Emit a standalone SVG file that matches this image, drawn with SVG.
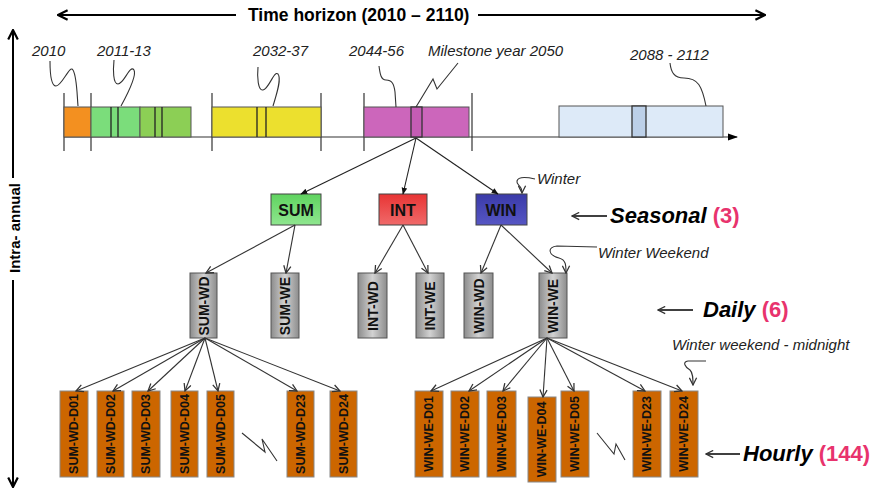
<svg xmlns="http://www.w3.org/2000/svg" width="880" height="493" viewBox="0 0 880 493">
  <defs>
    <marker id="vee" viewBox="0 0 10 10" refX="9" refY="5" markerWidth="9" markerHeight="9" markerUnits="userSpaceOnUse" orient="auto">
      <path d="M1,1 L9,5 L1,9" fill="none" stroke="#333" stroke-width="1.4"/>
    </marker>
    <marker id="tri" viewBox="0 0 10 10" refX="9" refY="5" markerWidth="7" markerHeight="7" markerUnits="userSpaceOnUse" orient="auto">
      <path d="M0,1 L10,5 L0,9 Z" fill="#111"/>
    </marker>
    <marker id="axis" viewBox="0 0 10 10" refX="9" refY="5" markerWidth="12" markerHeight="12" markerUnits="userSpaceOnUse" orient="auto">
      <path d="M1,1 L9,5 L1,9" fill="none" stroke="#000" stroke-width="1.8"/>
    </marker>
    <marker id="head" viewBox="0 0 10 10" refX="9" refY="5" markerWidth="14" markerHeight="10" markerUnits="userSpaceOnUse" orient="auto">
      <path d="M0,1.5 L10,5 L0,8.5 Z" fill="#000"/>
    </marker>
    <linearGradient id="grey" x1="0" y1="0" x2="1" y2="0">
      <stop offset="0" stop-color="#8c8c8c"/>
      <stop offset="0.5" stop-color="#d2d2d2"/>
      <stop offset="1" stop-color="#8c8c8c"/>
    </linearGradient>
    <linearGradient id="gSum" x1="0" y1="0" x2="0" y2="1">
      <stop offset="0" stop-color="#5fd35f"/>
      <stop offset="1" stop-color="#8fe68f"/>
    </linearGradient>
    <linearGradient id="gInt" x1="0" y1="0" x2="0" y2="1">
      <stop offset="0" stop-color="#e83434"/>
      <stop offset="1" stop-color="#f06a6a"/>
    </linearGradient>
    <linearGradient id="gWin" x1="0" y1="0" x2="0" y2="1">
      <stop offset="0" stop-color="#3a3aa8"/>
      <stop offset="1" stop-color="#5656c4"/>
    </linearGradient>
  </defs>
  <style>
    .lbl { font-family: "Liberation Sans", Arial, sans-serif; font-style: italic; font-size: 15px; fill: #222; }
    .lvl { font-family: "Liberation Sans", Arial, sans-serif; font-style: italic; font-weight: bold; font-size: 22px; fill: #000; }
    .cnt { font-style: normal; fill: #e8336d; }
    .ttl { font-family: "Liberation Sans", Arial, sans-serif; font-weight: bold; fill: #000; }
    .seas { font-family: "Liberation Sans", Arial, sans-serif; font-weight: bold; font-size: 16px; fill: #111; text-anchor: middle; }
    .vt { font-family: "Liberation Sans", Arial, sans-serif; font-weight: bold; fill: #111; text-anchor: middle; dominant-baseline: central; }
    .day { fill: url(#grey); stroke: #555; stroke-width: 1; }
    .hr { fill: #cc6600; stroke: #888; stroke-width: 1; }
    .edge { stroke: #333; stroke-width: 1.1; fill: none; marker-end: url(#vee); }
    .top { stroke: #222; stroke-width: 1.1; fill: none; marker-end: url(#tri); }
    .lead { stroke: #333; stroke-width: 1.1; fill: none; }
    .tick { stroke: #333; stroke-width: 1.2; }
    .sep { stroke: #222; stroke-width: 1.3; }
  </style>
  <rect width="880" height="493" fill="#fff"/>

  <!-- axes -->
  <g id="time-axis">
    <line x1="236" y1="15" x2="58" y2="15" stroke="#000" stroke-width="2" marker-end="url(#axis)"/>
    <line x1="478" y1="15" x2="765" y2="15" stroke="#000" stroke-width="2" marker-end="url(#axis)"/>
    <text class="ttl" x="248" y="21" font-size="17.5">Time horizon (2010 – 2110)</text>
  </g>
  <g id="intra-axis">
    <line x1="13" y1="178" x2="13" y2="30" stroke="#000" stroke-width="2" marker-end="url(#axis)"/>
    <line x1="13" y1="280" x2="13" y2="487" stroke="#000" stroke-width="2" marker-end="url(#axis)"/>
    <text class="ttl" font-size="15" text-anchor="middle" dominant-baseline="central" transform="translate(14,228) rotate(-90)">Intra- annual</text>
  </g>

  <!-- timeline of periods -->
  <g id="timeline">
    <line x1="64" y1="137" x2="737" y2="137" stroke="#333" stroke-width="1.2" marker-end="url(#head)"/>
    <line class="tick" x1="64" y1="93" x2="64" y2="151"/>
    <line class="tick" x1="91" y1="93" x2="91" y2="151"/>
    <line class="tick" x1="212" y1="93" x2="212" y2="151"/>
    <line class="tick" x1="321" y1="93" x2="321" y2="151"/>
    <line class="tick" x1="364" y1="93" x2="364" y2="151"/>
    <line class="tick" x1="472" y1="93" x2="472" y2="151"/>
  </g>
  <g id="p2010">
    <rect x="64" y="107" width="27" height="30" fill="#f39020" stroke="#555"/>
    <text class="lbl" x="32" y="56">2010</text>
    <path class="lead" d="M50,61 C50,72 51,86 56,86 C62,86 70,64 73,70 C77,77 77,95 78,106"/>
  </g>
  <g id="p2011">
    <rect x="91" y="107" width="49" height="30" fill="#7bdd7b" stroke="#555"/>
    <rect x="140" y="107" width="51" height="30" fill="#8ccf55" stroke="#555"/>
    <line class="sep" x1="111" y1="107" x2="111" y2="137"/>
    <line class="sep" x1="118" y1="107" x2="118" y2="137"/>
    <line class="sep" x1="155" y1="107" x2="155" y2="137"/>
    <line class="sep" x1="162" y1="107" x2="162" y2="137"/>
    <text class="lbl" x="97" y="56">2011-13</text>
    <path class="lead" d="M114,60 C113,70 113,84 118,84 C124,84 130,64 134,70 C137,76 127,95 121,106"/>
  </g>
  <g id="p2032">
    <rect x="212" y="107" width="109" height="30" fill="#ece02e" stroke="#555"/>
    <line class="sep" x1="257" y1="107" x2="257" y2="137"/>
    <line class="sep" x1="266" y1="107" x2="266" y2="137"/>
    <text class="lbl" x="253" y="56">2032-37</text>
    <path class="lead" d="M258,67 C257,77 258,91 263,90 C269,89 274,70 278,74 C282,79 276,96 273,106"/>
  </g>
  <g id="p2044">
    <rect x="364" y="107" width="105" height="30" fill="#cc66bb" stroke="#555"/>
    <rect x="411" y="107" width="11" height="30" fill="#c45cb4" stroke="#333" stroke-width="1.3"/>
    <text class="lbl" x="349" y="56">2044-56</text>
    <path class="lead" d="M379,66 C380,74 381,80 386,80 C392,80 394,84 395,92 L396,107"/>
    <text class="lbl" x="428" y="56">Milestone year 2050</text>
    <path class="lead" d="M458,63 L437,89 L433,79 L416,107"/>
  </g>
  <g id="p2088">
    <rect x="559" y="106" width="164" height="31" fill="#ddeaf8" stroke="#555"/>
    <rect x="632" y="106" width="14" height="31" fill="#bcd0e8" stroke="#333" stroke-width="1.3"/>
    <text class="lbl" x="630" y="60">2088 - 2112</text>
    <path class="lead" d="M670,63 C671,72 674,78 684,78 C698,78 702,86 706,106"/>
  </g>

  <!-- seasonal level -->
  <g id="SUM">
    <rect x="271" y="194" width="50" height="31" fill="url(#gSum)" stroke="#444"/>
    <text class="seas" x="296" y="216">SUM</text>
  </g>
  <g id="INT">
    <rect x="379" y="194" width="48" height="31" fill="url(#gInt)" stroke="#444"/>
    <text class="seas" x="403" y="216">INT</text>
  </g>
  <g id="WIN">
    <rect x="476" y="194" width="51" height="31" fill="url(#gWin)" stroke="#444"/>
    <text class="seas" x="501" y="216">WIN</text>
  </g>

  <!-- daily level -->
  <g id="SUM-WD"><rect class="day" x="190" y="273" width="27" height="65"/><text class="vt" font-size="14" transform="translate(204,306) rotate(-90)">SUM-WD</text></g>
  <g id="SUM-WE"><rect class="day" x="271" y="273" width="28" height="65"/><text class="vt" font-size="14" transform="translate(285,306) rotate(-90)">SUM-WE</text></g>
  <g id="INT-WD"><rect class="day" x="358" y="273" width="29" height="65"/><text class="vt" font-size="14" transform="translate(372.5,306) rotate(-90)">INT-WD</text></g>
  <g id="INT-WE"><rect class="day" x="416" y="273" width="28" height="65"/><text class="vt" font-size="14" transform="translate(430,306) rotate(-90)">INT-WE</text></g>
  <g id="WIN-WD"><rect class="day" x="464" y="273" width="29" height="65"/><text class="vt" font-size="14" transform="translate(478.5,306) rotate(-90)">WIN-WD</text></g>
  <g id="WIN-WE"><rect class="day" x="539" y="273" width="28" height="65"/><text class="vt" font-size="14" transform="translate(553,306) rotate(-90)">WIN-WE</text></g>

  <!-- hourly level: summer weekday -->
  <g id="SUM-WD-D01"><rect class="hr" x="60" y="391" width="28" height="86"/><text class="vt" font-size="12.5" transform="translate(74,434) rotate(-90)">SUM-WD-D01</text></g>
  <g id="SUM-WD-D02"><rect class="hr" x="97" y="391" width="27" height="86"/><text class="vt" font-size="12.5" transform="translate(110.5,434) rotate(-90)">SUM-WD-D02</text></g>
  <g id="SUM-WD-D03"><rect class="hr" x="132" y="391" width="28" height="86"/><text class="vt" font-size="12.5" transform="translate(146,434) rotate(-90)">SUM-WD-D03</text></g>
  <g id="SUM-WD-D04"><rect class="hr" x="171" y="391" width="27" height="86"/><text class="vt" font-size="12.5" transform="translate(184.5,434) rotate(-90)">SUM-WD-D04</text></g>
  <g id="SUM-WD-D05"><rect class="hr" x="207" y="391" width="27" height="86"/><text class="vt" font-size="12.5" transform="translate(220.5,434) rotate(-90)">SUM-WD-D05</text></g>
  <g id="SUM-WD-D23"><rect class="hr" x="287" y="391" width="27" height="86"/><text class="vt" font-size="12.5" transform="translate(300.5,434) rotate(-90)">SUM-WD-D23</text></g>
  <g id="SUM-WD-D24"><rect class="hr" x="330" y="391" width="27" height="86"/><text class="vt" font-size="12.5" transform="translate(343.5,434) rotate(-90)">SUM-WD-D24</text></g>

  <!-- hourly level: winter weekend -->
  <g id="WIN-WE-D01"><rect class="hr" x="415" y="391" width="28" height="86"/><text class="vt" font-size="12.5" transform="translate(429,434) rotate(-90)">WIN-WE-D01</text></g>
  <g id="WIN-WE-D02"><rect class="hr" x="451" y="391" width="28" height="86"/><text class="vt" font-size="12.5" transform="translate(465,434) rotate(-90)">WIN-WE-D02</text></g>
  <g id="WIN-WE-D03"><rect class="hr" x="487" y="391" width="29" height="86"/><text class="vt" font-size="12.5" transform="translate(501.5,434) rotate(-90)">WIN-WE-D03</text></g>
  <g id="WIN-WE-D04"><rect class="hr" x="528" y="397" width="28" height="85"/><text class="vt" font-size="12.5" transform="translate(542,439.5) rotate(-90)">WIN-WE-D04</text></g>
  <g id="WIN-WE-D05"><rect class="hr" x="561" y="391" width="28" height="86"/><text class="vt" font-size="12.5" transform="translate(575,434) rotate(-90)">WIN-WE-D05</text></g>
  <g id="WIN-WE-D23"><rect class="hr" x="633" y="391" width="28" height="86"/><text class="vt" font-size="12.5" transform="translate(647,434) rotate(-90)">WIN-WE-D23</text></g>
  <g id="WIN-WE-D24"><rect class="hr" x="670" y="391" width="28" height="86"/><text class="vt" font-size="12.5" transform="translate(684,434) rotate(-90)">WIN-WE-D24</text></g>

  <!-- omitted-hours marks -->
  <g id="gap-marks">
    <path class="lead" d="M242,433 L265,452 L262,439 L277,461"/>
    <path class="lead" d="M597,433 L614,454 L616,444 L625,460"/>
  </g>

  <!-- connectors -->
  <g id="connectors">
    <line class="top" x1="416" y1="138" x2="301" y2="194"/>
    <line class="top" x1="416" y1="138" x2="403" y2="194"/>
    <line class="top" x1="416" y1="138" x2="498" y2="194"/>

    <line class="edge" x1="295" y1="225" x2="206" y2="273"/>
    <line class="edge" x1="295" y1="225" x2="286" y2="273"/>
    <line class="edge" x1="403" y1="225" x2="375" y2="273"/>
    <line class="edge" x1="403" y1="225" x2="428" y2="273"/>
    <line class="edge" x1="501" y1="225" x2="481" y2="273"/>
    <line class="edge" x1="501" y1="225" x2="552" y2="273"/>

    <line class="edge" x1="205" y1="338" x2="76" y2="391"/>
    <line class="edge" x1="205" y1="338" x2="113" y2="391"/>
    <line class="edge" x1="205" y1="338" x2="148" y2="391"/>
    <line class="edge" x1="205" y1="338" x2="185" y2="391"/>
    <line class="edge" x1="205" y1="338" x2="218" y2="391"/>
    <line class="edge" x1="205" y1="338" x2="297" y2="391"/>
    <line class="edge" x1="205" y1="338" x2="340" y2="391"/>

    <line class="edge" x1="547" y1="338" x2="431" y2="391"/>
    <line class="edge" x1="547" y1="338" x2="469" y2="391"/>
    <line class="edge" x1="547" y1="338" x2="503" y2="391"/>
    <line class="edge" x1="547" y1="338" x2="543" y2="397"/>
    <line class="edge" x1="547" y1="338" x2="574" y2="391"/>
    <line class="edge" x1="547" y1="338" x2="645" y2="391"/>
    <line class="edge" x1="547" y1="338" x2="682" y2="391"/>
  </g>

  <!-- callouts -->
  <g id="note-winter">
    <text class="lbl" x="537" y="184">Winter</text>
    <path class="edge" d="M535,179 C526,177 518,177 517,181 C516,186 522,184 522,193"/>
  </g>
  <g id="note-winter-weekend">
    <text class="lbl" x="598" y="258">Winter Weekend</text>
    <path class="edge" d="M597,247 L557,246 C547,247 548,255 559,258 C566,260 566,265 566,273"/>
  </g>
  <g id="note-midnight">
    <text class="lbl" x="672" y="350">Winter weekend - midnight</text>
    <path class="edge" d="M706,361 L688,361 C682,362 685,367 690,370 C693,373 693,378 693,385"/>
  </g>

  <!-- level legends -->
  <g id="legend-seasonal">
    <line x1="607" y1="216" x2="572" y2="216" stroke="#000" stroke-width="1.5" marker-end="url(#vee)"/>
    <text class="lvl" x="610" y="223">Seasonal <tspan class="cnt">(3)</tspan></text>
  </g>
  <g id="legend-daily">
    <line x1="693" y1="310" x2="658" y2="310" stroke="#000" stroke-width="1.5" marker-end="url(#vee)"/>
    <text class="lvl" x="703" y="317">Daily <tspan class="cnt">(6)</tspan></text>
  </g>
  <g id="legend-hourly">
    <line x1="740" y1="454" x2="706" y2="454" stroke="#000" stroke-width="1.5" marker-end="url(#vee)"/>
    <text class="lvl" x="743" y="461">Hourly <tspan class="cnt">(144)</tspan></text>
  </g>
</svg>
